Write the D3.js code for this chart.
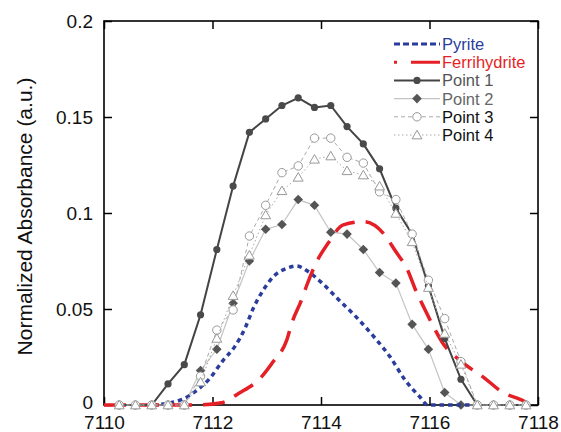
<!DOCTYPE html>
<html lang="en">
<head>
<meta charset="UTF-8">
<title>Fe pre-edge XANES</title>
<script src="https://d3js.org/d3.v7.min.js"></script>
<style>
  body { margin: 0; background: #fff; }
  svg { display: block; font-family: "Liberation Sans", Arial, sans-serif; }
</style>
</head>
<body>
<div id="chart"></div>
<script>
// energy grid of the measured points (eV)
const pointEnergy = d3.range(26).map(k => +(7110.28 + 0.3 * k).toFixed(2));

const point1 = [0, 0, 0, 0.011, 0.021, 0.047, 0.081, 0.114, 0.142, 0.149, 0.156, 0.160, 0.155,
  0.156, 0.145, 0.136, 0.123, 0.1025, 0.089, 0.062, 0.0347, 0.0134, 0, 0, 0, 0];
const point2 = [0, 0, 0, 0, 0, 0.018, 0.029, 0.053, 0.075, 0.0915, 0.094, 0.107, 0.104,
  0.090, 0.089, 0.081, 0.069, 0.0635, 0.042, 0.029, 0.0065, 0, 0, 0, 0, 0];
const point3 = [0, 0, 0, 0, 0, 0.015, 0.039, 0.0495, 0.088, 0.104, 0.121, 0.1245, 0.139,
  0.139, 0.129, 0.126, 0.111, 0.107, 0.089, 0.065, 0.045, 0.0226, 0, 0, 0, 0];
const point4 = [0, 0, 0, 0, 0, 0.012, 0.0347, 0.057, 0.078, 0.099, 0.1116, 0.1186, 0.128,
  0.1297, 0.122, 0.1198, 0.114, 0.0998, 0.085, 0.0612, 0.0373, 0.0212, 0, 0, 0, 0];

// reference spectra
const pyriteEnergy = [7110.9, 7111.2, 7111.45, 7111.68, 7111.95, 7112.2, 7112.41, 7112.6, 7112.75,
  7112.94, 7113.12, 7113.37, 7113.55, 7113.77, 7114.0, 7114.33, 7114.66, 7115.0, 7115.27,
  7115.55, 7115.82, 7115.97, 7116.8];
const pyriteValue = [0, 0.001, 0.003, 0.007, 0.0139, 0.0234, 0.0304, 0.040, 0.0503,
  0.060, 0.0668, 0.0712, 0.0724, 0.0694, 0.064, 0.0547, 0.0455, 0.0347, 0.0252,
  0.013, 0.0043, 0, 0];

const ferriEnergy = [7110.0, 7111.7, 7112.17, 7112.48, 7112.88, 7113.12, 7113.37, 7113.46, 7113.64,
  7113.74, 7113.92, 7114.13, 7114.41, 7114.78, 7115.15, 7115.36, 7115.61, 7115.73, 7115.92,
  7116.07, 7116.25, 7116.59, 7117.02, 7117.33, 7117.76, 7117.85];
const ferriValue = [0, 0, 0.0012, 0.006, 0.0139, 0.0226, 0.0339, 0.0425, 0.0547,
  0.0625, 0.0746, 0.0842, 0.0938, 0.0955, 0.0894, 0.0807, 0.0694, 0.0608, 0.0495,
  0.041, 0.032, 0.0226, 0.0139, 0.0069, 0.0017, 0];

const xTicks = [7110, 7112, 7114, 7116, 7118];
const yTicks = [0, 0.05, 0.1, 0.15, 0.2];
const yTickLabels = ["0", "0.05", "0.1", "0.15", "0.2"];

const width = 561, height = 432;
const plotLeft = 104, plotRight = 538, plotTop = 21, plotBottom = 405;

const x = d3.scaleLinear().domain([7110, 7118]).range([plotLeft, plotRight]);
const y = d3.scaleLinear().domain([0, 0.2]).range([plotBottom, plotTop]);

const svg = d3.select("#chart").append("svg")
  .attr("width", width)
  .attr("height", height);

// frame and inward ticks on all sides
const tickLen = 8;
svg.append("rect")
  .attr("x", plotLeft).attr("y", plotTop)
  .attr("width", plotRight - plotLeft).attr("height", plotBottom - plotTop)
  .attr("fill", "none").attr("stroke", "#000").attr("stroke-width", 1.6);

svg.append("g")
  .attr("transform", `translate(0,${plotBottom})`)
  .call(d3.axisBottom(x).tickValues(xTicks).tickSize(-tickLen).tickSizeOuter(0).tickPadding(11).tickFormat(d3.format("d")))
  .call(g => g.select(".domain").remove())
  .call(g => g.selectAll("line").attr("stroke-width", 1.5))
  .call(g => g.selectAll("text").attr("font-size", 19).attr("fill", "#111").attr("font-family", "Liberation Sans, Arial, sans-serif"));

svg.append("g")
  .attr("transform", `translate(0,${plotTop})`)
  .call(d3.axisTop(x).tickValues(xTicks).tickSize(-tickLen).tickSizeOuter(0).tickFormat(""))
  .call(g => g.select(".domain").remove())
  .call(g => g.selectAll("line").attr("stroke-width", 1.5));

svg.append("g")
  .attr("transform", `translate(${plotLeft},0)`)
  .call(d3.axisLeft(y).tickValues(yTicks).tickSize(-tickLen).tickSizeOuter(0).tickPadding(11)
    .tickFormat((d, i) => yTickLabels[i]))
  .call(g => g.select(".domain").remove())
  .call(g => g.selectAll("line").attr("stroke-width", 1.5))
  .call(g => g.selectAll("text").attr("font-size", 19).attr("fill", "#111").attr("font-family", "Liberation Sans, Arial, sans-serif"))
  .call(g => g.selectAll(".tick").filter(d => d === 0).select("text").attr("dy", "0.2em"));

svg.append("g")
  .attr("transform", `translate(${plotRight},0)`)
  .call(d3.axisRight(y).tickValues(yTicks).tickSize(-tickLen).tickSizeOuter(0).tickFormat(""))
  .call(g => g.select(".domain").remove())
  .call(g => g.selectAll("line").attr("stroke-width", 1.5));

svg.append("text")
  .attr("transform", `translate(32,${(68 + 365) / 2}) rotate(-90)`)
  .attr("text-anchor", "middle")
  .attr("font-size", 21)
  .attr("fill", "#111")
  .text("Normalized Absorbance (a.u.)");

// series
const line = d3.line().x(d => x(d[0])).y(d => y(d[1]));
const smooth = d3.line().x(d => x(d[0])).y(d => y(d[1])).curve(d3.curveMonotoneX);

const pyrite = d3.zip(pyriteEnergy, pyriteValue);
const ferri = d3.zip(ferriEnergy, ferriValue);
const p1 = d3.zip(pointEnergy, point1);
const p2 = d3.zip(pointEnergy, point2);
const p3 = d3.zip(pointEnergy, point3);
const p4 = d3.zip(pointEnergy, point4);

const styles = {
  pyrite: { stroke: "#2b3d9c", width: 3.5, dash: "4.5,4" },
  ferri: { stroke: "#e51f26", width: 3.5, dash: "22,11" },
  p1: { stroke: "#444", width: 2, dash: null },
  p2: { stroke: "#c4c4c4", width: 1.2, dash: null },
  p3: { stroke: "#aaa", width: 1, dash: "4,3" },
  p4: { stroke: "#aaa", width: 1, dash: "1.5,2.5" }
};

function drawPath(data, gen, s) {
  svg.append("path")
    .datum(data)
    .attr("fill", "none")
    .attr("stroke", s.stroke)
    .attr("stroke-width", s.width)
    .attr("stroke-dasharray", s.dash)
    .attr("d", gen);
}

const diamond = d3.symbol().type(d3.symbolSquare).size(46);
const triangle = d3.symbol().type(d3.symbolTriangle).size(42);

function marker(g, kind) {
  if (kind === "p1") {
    g.append("circle").attr("r", 3.6).attr("fill", "#4a4a4a");
  } else if (kind === "p2") {
    g.append("path").attr("d", diamond()).attr("transform", "rotate(45)").attr("fill", "#555");
  } else if (kind === "p3") {
    g.append("circle").attr("r", 4.2).attr("fill", "#fff").attr("stroke", "#999").attr("stroke-width", 1);
  } else {
    g.append("path").attr("d", triangle()).attr("transform", "translate(0,1)")
      .attr("fill", "#fff").attr("stroke", "#999").attr("stroke-width", 1);
  }
}

function drawMarkers(data, kind) {
  svg.append("g").selectAll("g")
    .data(data)
    .join("g")
    .attr("transform", d => `translate(${x(d[0])},${y(d[1])})`)
    .each(function () { marker(d3.select(this), kind); });
}

drawPath(p2, line, styles.p2);
drawMarkers(p2, "p2");
drawPath(pyrite, smooth, styles.pyrite);
drawPath(ferri, smooth, styles.ferri);
drawPath(p1, line, styles.p1);
drawMarkers(p1, "p1");
drawPath(p3, line, styles.p3);
drawMarkers(p3, "p3");
drawPath(p4, line, styles.p4);
drawMarkers(p4, "p4");

// legend
const legendItems = [
  { key: "pyrite", label: "Pyrite", color: "#2b3d9c", dash: "6,3" },
  { key: "ferri", label: "Ferrihydrite", color: "#e51f26", dash: "3,14,30" },
  { key: "p1", label: "Point 1", color: "#555", dash: null },
  { key: "p2", label: "Point 2", color: "#666", dash: null },
  { key: "p3", label: "Point 3", color: "#111", dash: "4,3" },
  { key: "p4", label: "Point 4", color: "#111", dash: "1.5,2.5" }
];

const legend = svg.append("g").attr("transform", "translate(394,44)");
legendItems.forEach((item, i) => {
  const row = legend.append("g").attr("transform", `translate(0,${i * 18.2})`);
  const s = styles[item.key];
  row.append("line")
    .attr("x1", 0).attr("x2", 46)
    .attr("stroke", s.stroke)
    .attr("stroke-width", item.key === "pyrite" || item.key === "ferri" ? 3 : s.width)
    .attr("stroke-dasharray", item.dash);
  if (item.key.startsWith("p") && item.key !== "pyrite") {
    const m = row.append("g").attr("transform", "translate(23,0)");
    marker(m, item.key);
  }
  row.append("text")
    .attr("x", 48).attr("y", 0).attr("dy", "0.36em")
    .attr("font-size", 16.5)
    .attr("fill", item.color)
    .text(item.label);
});
</script>
</body>
</html>
